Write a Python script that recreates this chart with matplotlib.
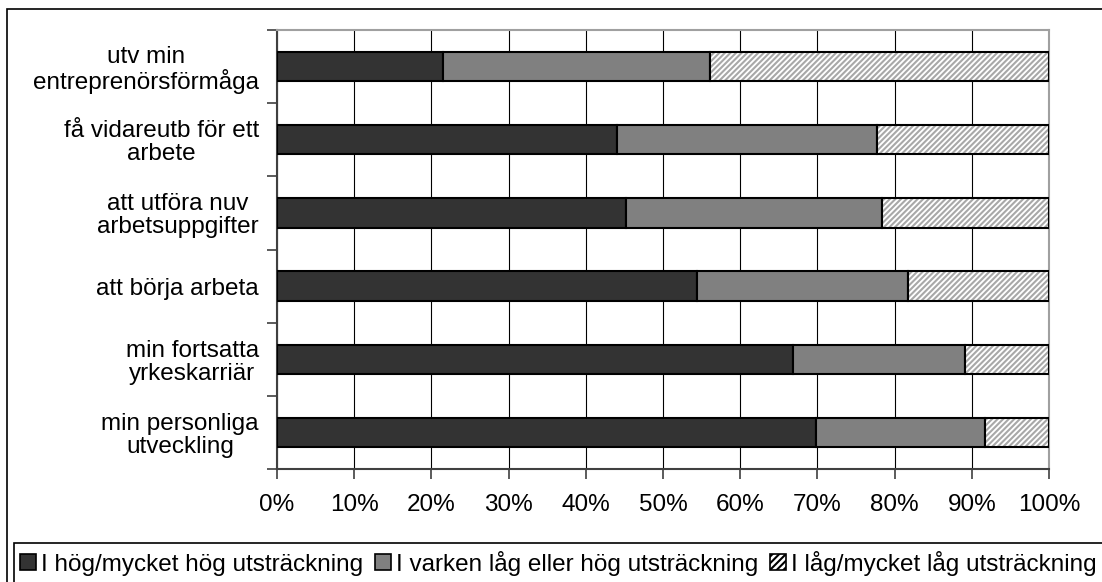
import matplotlib
matplotlib.use("Agg")
import matplotlib.pyplot as plt
from matplotlib.patches import Rectangle, Patch

categories = ["utv min\nentreprenörsförmåga",
              "få vidareutb för ett\narbete",
              "att utföra nuv\narbetsuppgifter",
              "att börja arbeta",
              "min fortsatta\nyrkeskarriär",
              "min personliga\nutveckling"]
hog = [21.5, 44.0, 45.2, 54.4, 66.8, 69.8]
varken = [34.6, 33.7, 33.2, 27.3, 22.3, 21.9]
lag = [43.9, 22.3, 21.6, 18.3, 10.9, 8.3]
series_names = ["I hög/mycket hög utsträckning",
                "I varken låg eller hög utsträckning",
                "I låg/mycket låg utsträckning"]
xticks = [0, 10, 20, 30, 40, 50, 60, 70, 80, 90, 100]

plt.rcParams['font.family'] = ['Liberation Sans', 'DejaVu Sans']
plt.rcParams['hatch.linewidth'] = 1.5

fig = plt.figure(figsize=(11.02, 5.82), dpi=100)
ax = fig.add_axes([277 / 1102, 1 - 469 / 582, 772 / 1102, 439 / 582])

n = len(categories)
ypos = list(range(n))
h = 0.4
left2 = [a + b for a, b in zip(hog, varken)]

ax.barh(ypos, hog, height=h, color="#333333", edgecolor="black", linewidth=1.5, zorder=3)
ax.barh(ypos, varken, left=hog, height=h, color="#808080", edgecolor="black", linewidth=1.5, zorder=3)
ax.barh(ypos, lag, left=left2, height=h, color="white", edgecolor="#a8a8a8", hatch="//////", linewidth=0, zorder=3)
ax.barh(ypos, lag, left=left2, height=h, color="none", edgecolor="black", linewidth=1.5, zorder=4)

ax.set_xlim(0, 100)
ax.set_ylim(n - 0.5, -0.5)
ax.set_xticks(xticks)
ax.set_xticklabels([f"{t}%" for t in xticks], fontsize=17.5)
ax.xaxis.grid(True, color="black", linewidth=0.8, zorder=0)
ax.tick_params(axis="x", length=7, width=1.2, color="#404040", pad=11)

ax.set_yticks([i - 0.5 for i in range(n + 1)])
ax.set_yticklabels([])
ax.tick_params(axis="y", which="major", length=7, width=1.2, color="#404040")
ax.set_yticks(ypos, minor=True)
ax.set_yticklabels(categories, minor=True, fontsize=17.5, ha="right",
                   multialignment="center", linespacing=1.05)
ax.tick_params(axis="y", which="minor", length=0, pad=13)

ax.spines["left"].set_color("#404040")
ax.spines["bottom"].set_color("#404040")
ax.spines["left"].set_linewidth(1.5)
ax.spines["bottom"].set_linewidth(1.5)
ax.spines["top"].set_color("#a0a0a0")
ax.spines["right"].set_color("#a0a0a0")
ax.spines["top"].set_linewidth(1.5)
ax.spines["right"].set_linewidth(1.5)

# outer chart border
fig.patches.append(Rectangle((7 / 1102, -0.1), 1.2, 1 - 9 / 582 + 0.1,
                             transform=fig.transFigure, fill=False,
                             edgecolor="black", linewidth=1.2))

# legend
handles = [Patch(facecolor="#333333", edgecolor="black", linewidth=1.2),
           Patch(facecolor="#808080", edgecolor="black", linewidth=1.2),
           Patch(facecolor="white", edgecolor="black", hatch="/////", linewidth=1.2)]
fig.patches.append(Rectangle((14 / 1102, -0.1), 1.2, 0.1 + 39 / 582,
                             transform=fig.transFigure, facecolor="white",
                             edgecolor="black", linewidth=1.2, zorder=5))
leg = fig.legend(handles, series_names, loc="center left",
                 bbox_to_anchor=(20 / 1102, 19 / 582), ncol=3, frameon=False,
                 fontsize=17.5, handlelength=0.65, handleheight=0.65,
                 handletextpad=0.2, columnspacing=0.5, borderpad=0, borderaxespad=0)
leg.set_zorder(6)

fig.savefig("out.png", dpi=100)
